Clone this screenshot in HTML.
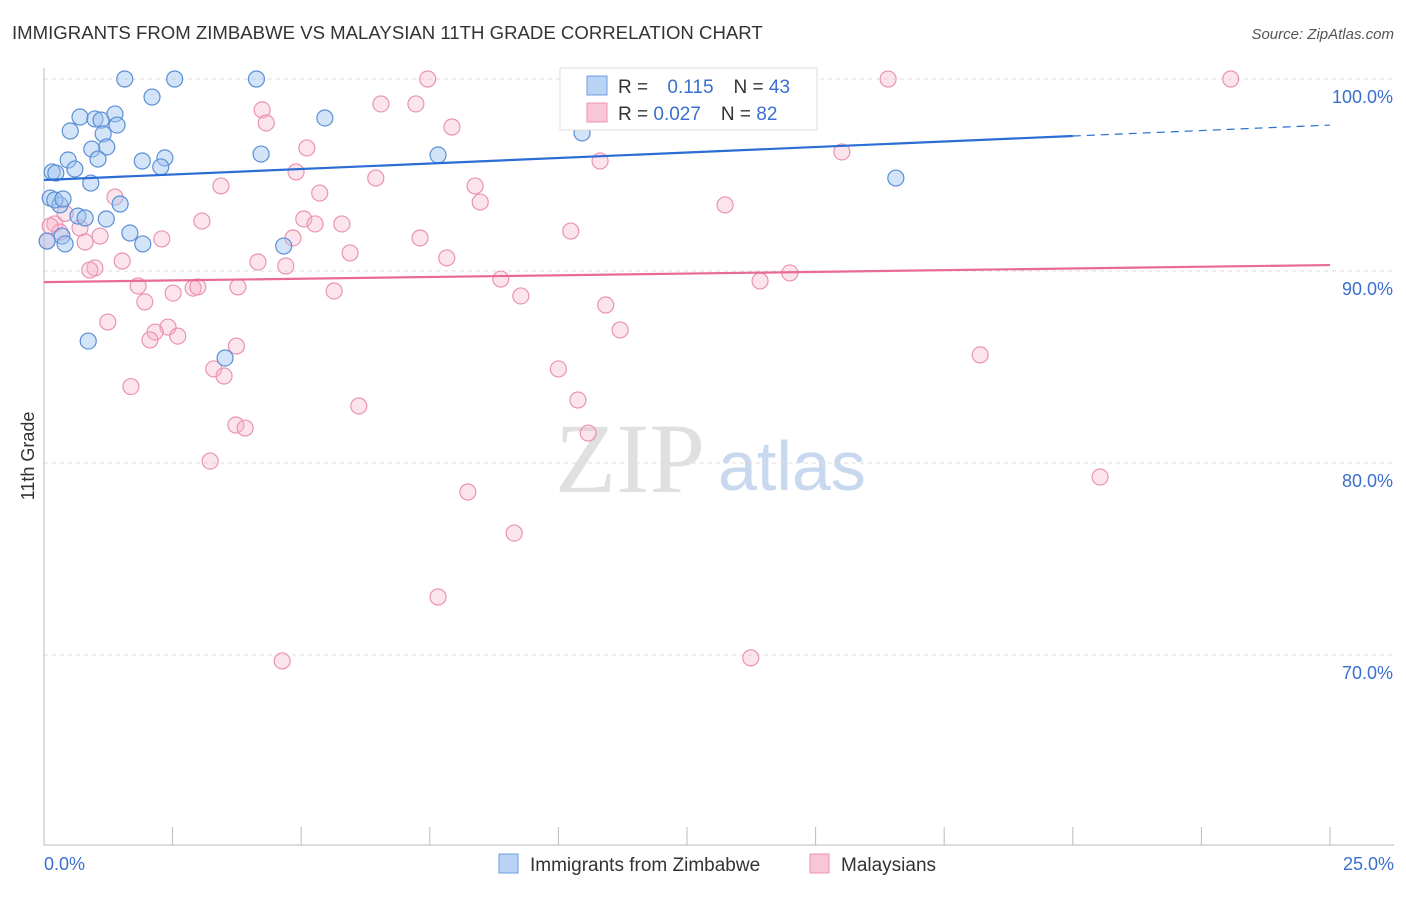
<!DOCTYPE html>
<html><head><meta charset="utf-8"><style>
body{margin:0;background:#fff;font-family:"Liberation Sans",sans-serif}
svg text{font-family:"Liberation Sans",sans-serif}
svg text.serif{font-family:"Liberation Serif",serif}
</style></head><body>
<svg id="c" width="1406" height="892">
<text x="12" y="39" font-size="18.6" fill="#333">IMMIGRANTS FROM ZIMBABWE VS MALAYSIAN 11TH GRADE CORRELATION CHART</text>
<text x="1394" y="39" font-size="15" fill="#555" font-style="italic" text-anchor="end">Source: ZipAtlas.com</text>
<text x="34" y="456" font-size="18" fill="#333" transform="rotate(-90 34 456)" text-anchor="middle">11th Grade</text>
<text x="555" y="492" font-size="100" fill="#e0e0e0" class="serif">ZIP</text>
<text x="718" y="490" font-size="70" fill="#c8d8ee">atlas</text>
<g id="grid"></g><g id="pts"></g><g id="lines"></g>
<g>
<rect x="560" y="68" width="257" height="62" fill="#fff" stroke="#ddd"/>
<rect x="587" y="76" width="20" height="19" fill="#b9d3f5" stroke="#6d9ee0"/>
<rect x="587" y="103" width="20" height="19" fill="#f9c6d6" stroke="#eb93b0"/>
<text x="618" y="93" font-size="19" fill="#333">R = <tspan fill="#3a6fd0" dx="14">0.115</tspan><tspan dx="20" fill="#333">N = </tspan><tspan fill="#3a6fd0">43</tspan></text>
<text x="618" y="120" font-size="19" fill="#333">R = <tspan fill="#3a6fd0">0.027</tspan><tspan dx="20" fill="#333">N = </tspan><tspan fill="#3a6fd0">82</tspan></text>
</g>
<g>
<rect x="499" y="854" width="19" height="19" fill="#b9d3f5" stroke="#6d9ee0"/>
<text x="530" y="871" font-size="19" fill="#333">Immigrants from Zimbabwe</text>
<rect x="810" y="854" width="19" height="19" fill="#f9c6d6" stroke="#eb93b0"/>
<text x="841" y="871" font-size="19" fill="#333">Malaysians</text>
</g>
<text x="44" y="870" font-size="18" fill="#3a6fd0">0.0%</text>
<text x="1394" y="870" font-size="18" fill="#3a6fd0" text-anchor="end">25.0%</text>
</svg>
<script>
const yTicks=[100,90,80,70];
const yTickLabels=["100.0%","90.0%","80.0%","70.0%"];
const blueX=[1.57,2.54,4.13,2.1,0.7,0.99,1.11,1.38,1.42,5.46,0.51,1.15,0.93,1.22,10.46,0.47,1.05,1.91,2.35,2.27,4.22,7.66,0.6,0.16,0.23,0.91,16.56,0.12,0.31,1.48,0.66,0.8,1.21,0.35,1.67,1.92,0.41,4.66,0.86,3.52,0.06,0.21,0.37];
const blueY=[100,100,100,99.06,98.02,97.92,97.86,98.18,97.6,97.97,97.29,97.14,96.35,96.46,97.19,95.78,95.83,95.73,95.89,95.42,96.09,96.04,95.31,95.16,95.1,94.58,94.84,93.8,93.44,93.49,92.86,92.76,92.71,91.82,91.98,91.41,91.41,91.3,86.35,85.47,91.56,93.7,93.75];
const pinkX=[7.46,11.53,16.41,23.07,4.24,4.32,6.55,7.23,7.93,10.79,15.51,5.11,4.9,6.45,3.44,5.36,8.38,8.48,10.81,1.38,13.24,0.41,5.05,5.27,5.79,3.07,0.7,0.21,0.31,1.09,0.8,2.29,4.84,7.31,10.24,4.16,4.7,5.95,7.83,1.52,0.99,0.89,8.88,13.92,14.5,1.83,2.9,2.99,3.77,2.51,5.64,9.27,1.96,10.92,1.24,2.41,2.6,2.16,2.06,3.74,11.2,18.2,3.3,3.5,10,1.69,10.38,6.12,3.73,3.91,10.58,3.23,20.53,8.24,9.14,7.66,4.63,13.74,0.06,0.12];
const pinkY=[100,99.9,100,100,98.39,97.71,98.7,98.7,97.5,98.23,96.2,96.41,95.16,94.84,94.43,94.06,94.43,93.59,95.73,93.85,93.44,93,92.71,92.45,92.45,92.6,92.24,92.45,92.03,91.82,91.51,91.67,91.72,91.72,92.08,90.47,90.26,90.94,90.68,90.52,90.16,90.05,89.58,89.48,89.9,89.22,89.11,89.17,89.17,88.85,88.96,88.7,88.39,88.23,87.34,87.08,86.61,86.82,86.41,86.09,86.93,85.63,84.9,84.53,84.9,83.98,83.28,82.97,81.98,81.82,81.56,80.1,79.27,78.49,76.35,73.02,69.69,69.85,91.56,92.34];
const blueTrend=[94.74,97.03,97.6];
const pinkTrend=[89.42,90.31];
const X=v=>44+v*51.44, Y=v=>79+(100-v)*19.2;
const NS="http://www.w3.org/2000/svg";
function mk(t,a,p){const e=document.createElementNS(NS,t);for(const k in a)e.setAttribute(k,a[k]);p.appendChild(e);return e;}
const g=document.getElementById('grid');
yTicks.forEach((t,i)=>{
 const l=mk('line',{x1:44,x2:1394,y1:Y(t),y2:Y(t),stroke:'#ddd','stroke-dasharray':'4,4'},g);
 
 
 const tx=mk('text',{x:1393,y:Y(t)+24,'font-size':18,fill:'#3a6fd0','text-anchor':'end'},g);
 tx.textContent=yTickLabels[i];
 
 
});
const ax=mk('line',{x1:44,x2:44,y1:68,y2:845,stroke:'#bbb'},g);


const bx=mk('line',{x1:44,x2:1394,y1:845,y2:845,stroke:'#bbb'},g);


for(let i=0;i<=10;i++){const t=mk('line',{x1:X(i*2.5),x2:X(i*2.5),y1:827,y2:845,stroke:'#bbb'},g);
 
 }
const p=document.getElementById('pts');
pinkX.forEach((x,i)=>{const c=mk('circle',{cx:X(x),cy:Y(pinkY[i]),r:8,fill:'rgba(246,178,200,0.35)',stroke:'#eb93b0','stroke-width':1.2},p);
 
 });
blueX.forEach((x,i)=>{const c=mk('circle',{cx:X(x),cy:Y(blueY[i]),r:8,fill:'rgba(160,196,240,0.45)',stroke:'#5a8fd6','stroke-width':1.2},p);
 
 });
const L=document.getElementById('lines');
const b1=mk('line',{x1:X(0),y1:Y(blueTrend[0]),x2:X(20),y2:Y(blueTrend[1]),stroke:'#2a6dd4','stroke-width':2.2},L);


const b2=mk('line',{x1:X(20),y1:Y(blueTrend[1]),x2:X(25),y2:Y(blueTrend[2]),stroke:'#2a6dd4','stroke-width':1.2,'stroke-dasharray':'8,6'},L);


const p1=mk('line',{x1:X(0),y1:Y(pinkTrend[0]),x2:X(25),y2:Y(pinkTrend[1]),stroke:'#e86a98','stroke-width':2.2},L);


</script>
</body></html>
